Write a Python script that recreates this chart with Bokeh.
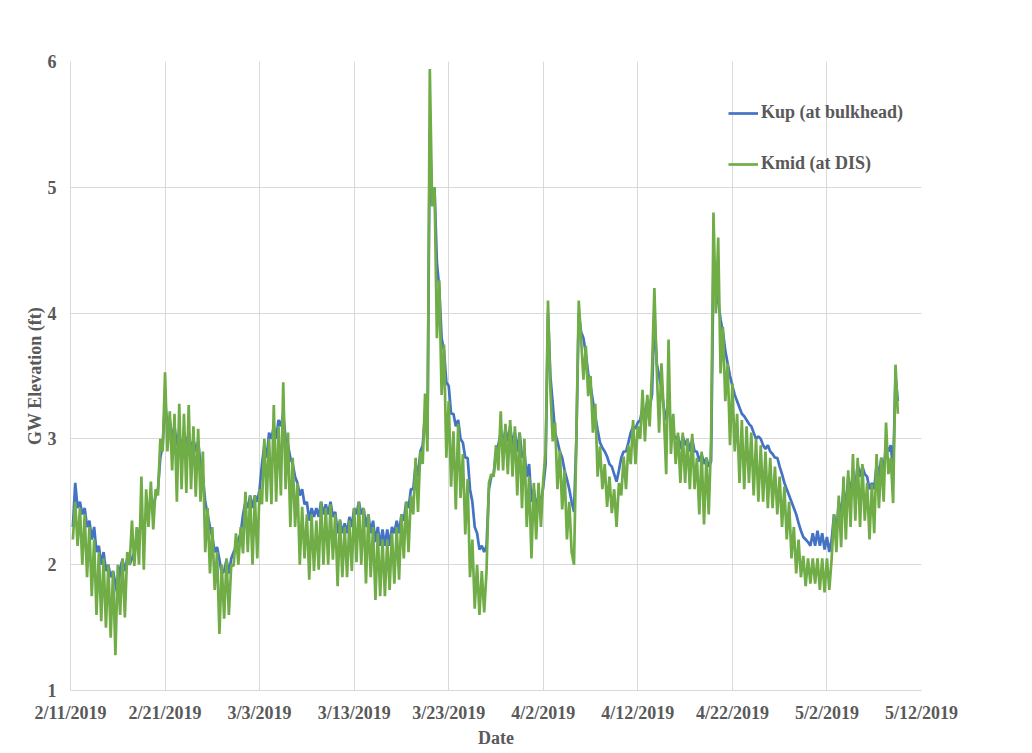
import pandas as pd
from bokeh.plotting import figure
from bokeh.models import Range1d, FixedTicker
from bokeh.embed import file_html
from bokeh.resources import INLINE

# ---- data (6-hourly samples starting 2019-02-11 06:00) ----
start_time = "2019-02-11 06:00"
step = "6h"

kmid_at_dis = [
    2.2, 2.5, 2.15, 2.45,  2.0, 2.4, 1.9, 2.3,
    1.75, 2.2, 1.6, 2.1,  1.55, 2.05, 1.5, 2.0,
    1.42, 1.95, 1.28, 2.0,  1.6, 2.05, 1.58, 2.1,
    2.0, 2.35, 1.99, 2.3,  2.0, 2.7, 1.96, 2.6,
    2.3, 2.66, 2.28, 2.6,  2.55, 3.0, 2.9, 3.53,
    2.9, 3.22, 2.75, 3.2,  2.5, 3.28, 2.6, 3.2,
    2.57, 3.27, 2.6, 3.1,  2.54, 3.08, 2.5, 2.9,
    2.1, 2.45, 1.93, 2.3,  1.8, 2.1, 1.45, 2.0,
    1.57, 2.05, 1.6, 2.0,  1.99, 2.25, 2.0, 2.3,
    2.09, 2.58, 2.1, 2.55,  2.0, 2.55, 2.05, 2.6,
    2.48, 3.0, 2.5, 3.0,  2.48, 3.27, 2.5, 3.1,
    2.55, 3.45, 2.6, 3.05,  2.3, 2.85, 2.3, 2.65,
    2.0, 2.46, 2.05, 2.4,  1.88, 2.4, 1.95, 2.35,
    1.96, 2.5, 2.0, 2.45,  2.0, 2.48, 2.04, 2.4,
    1.83, 2.36, 1.9, 2.3,  1.9, 2.35, 1.95, 2.45,
    2.02, 2.5, 2.0, 2.45,  1.85, 2.4, 1.9, 2.3,
    1.72, 2.25, 1.75, 2.2,  1.75, 2.2, 1.8, 2.25,
    1.85, 2.3, 1.88, 2.4,  2.05, 2.5, 2.1, 2.55,
    2.4, 2.85, 2.42, 2.9,  2.8, 3.36, 2.9, 5.94,
    4.85, 5.0, 3.8, 4.26,  3.35, 3.75, 2.85, 3.3,
    2.62, 3.06, 2.44, 3.12,  2.53, 2.88, 2.24, 2.68,
    1.9, 2.2, 1.65, 2.0,  1.6, 1.95, 1.62, 1.95,
    2.65, 2.72, 2.7, 2.95,  2.75, 3.22, 2.75, 3.12,
    2.72, 3.15, 2.7, 3.1,  2.55, 3.05, 2.45, 3.0,
    2.3, 2.7, 2.05, 2.65,  2.2, 2.65, 2.3, 2.68,
    2.9, 4.1, 3.4, 2.98,  3.13, 2.6, 2.91, 2.44,
    2.75, 2.2, 2.5, 2.1,  2.0, 3.0, 4.1, 3.79,
    3.47, 3.74, 3.34, 3.5,  3.05, 3.28, 2.7, 2.94,
    2.6, 2.8, 2.46, 2.7,  2.41, 2.6, 2.3, 2.65,
    2.55, 2.86, 2.6, 2.95,  2.8, 3.15, 2.8, 3.1,
    3.0, 3.39, 2.98, 3.35,  3.1, 3.55, 4.2, 3.55,
    3.05, 3.6, 3.2, 2.72,  3.79, 2.88, 3.2, 2.8,
    3.05, 2.65, 3.05, 2.65,  3.0, 2.6, 3.04, 2.6,
    2.85, 2.4, 2.9, 2.32,  2.85, 2.4, 3.0, 4.8,
    4.0, 4.6, 3.52, 3.89,  3.3, 3.6, 2.95, 3.44,
    2.9, 3.2, 2.65, 3.15,  2.6, 3.1, 2.65, 3.05,
    2.55, 3.0, 2.5, 2.95,  2.5, 2.9, 2.45, 2.85,
    2.45, 2.78, 2.4, 2.7,  2.3, 2.62, 2.2, 2.5,
    2.05, 2.3, 1.93, 2.2,  1.9, 2.07, 1.83, 2.05,
    1.85, 2.05, 1.85, 2.05,  1.8, 2.05, 1.78, 2.05,
    1.8, 2.05, 2.4, 2.1,  2.55, 2.14, 2.7, 2.2,
    2.75, 2.3, 2.88, 2.35,  2.85, 2.3, 2.8, 2.35,
    2.65, 2.2, 2.64, 2.25,  2.88, 2.45, 2.85, 2.5,
    3.13, 2.72, 2.85, 2.49,  3.59, 3.2,
]

kup_at_bulkhead = [
    2.3, 2.65, 2.45, 2.5,  2.4, 2.45, 2.3, 2.35,
    2.2, 2.3, 2.1, 2.15,  2.0, 2.1, 1.95, 2.0,
    1.9, 1.95, 1.85, 1.75,  1.97, 2.04, 1.95, 2.05,
    2.0, 2.05, 2.1, 2.2,  2.25, 2.35, 2.3, 2.4,
    2.45, 2.5, 2.45, 2.55,  2.6, 2.85, 2.95, 3.3,
    3.1, 3.15, 3.0, 3.1,  2.95, 3.05, 2.9, 3.05,
    2.95, 3.05, 2.9, 3.0,  2.9, 2.98, 2.8, 2.7,
    2.5, 2.4, 2.3, 2.22,  2.1, 2.14, 2.04, 1.93,
    1.95, 2.04, 1.93, 2.05,  2.1, 2.14, 2.2, 2.25,
    2.4, 2.5, 2.45, 2.55,  2.45, 2.55, 2.5, 2.6,
    2.8, 2.95, 2.85, 3.05,  3.0, 3.1, 3.0, 3.15,
    3.1, 3.2, 3.0, 2.95,  2.85, 2.8, 2.7, 2.65,
    2.55, 2.6, 2.48, 2.5,  2.35, 2.45, 2.38, 2.45,
    2.38, 2.5, 2.4, 2.48,  2.4, 2.5, 2.38, 2.42,
    2.25, 2.35, 2.25, 2.33,  2.25, 2.38, 2.3, 2.45,
    2.4, 2.5, 2.4, 2.45,  2.3, 2.4, 2.25, 2.35,
    2.18, 2.3, 2.15, 2.28,  2.15, 2.28, 2.15, 2.3,
    2.25, 2.35, 2.25, 2.4,  2.35, 2.5, 2.45, 2.6,
    2.6, 2.8, 2.7, 2.9,  2.95, 3.2, 3.0, 5.45,
    4.85, 5.0, 4.4, 4.2,  3.8, 3.7, 3.45, 3.42,
    3.2, 3.2, 3.1, 3.15,  3.0, 2.97, 2.85, 2.85,
    2.6, 2.5, 2.3, 2.25,  2.12, 2.15, 2.1, 2.15,
    2.6, 2.7, 2.72, 2.88,  2.95, 3.05, 2.95, 3.08,
    2.98, 3.1, 2.95, 3.05,  2.9, 3.05, 2.85, 2.9,
    2.7, 2.8, 2.5, 2.6,  2.45, 2.55, 2.5, 2.62,
    2.8, 4.0, 3.5, 3.28,  3.05, 2.98, 2.9, 2.85,
    2.75, 2.68, 2.6, 2.5,  2.42, 3.0, 4.0, 3.85,
    3.8, 3.68, 3.52, 3.42,  3.3, 3.18, 3.07, 2.97,
    2.93, 2.9, 2.86, 2.8,  2.78, 2.72, 2.66, 2.75,
    2.85, 2.9, 2.9, 2.97,  3.05, 3.1, 3.08, 3.13,
    3.15, 3.25, 3.2, 3.3,  3.25, 3.35, 4.0, 3.6,
    3.5, 3.4, 3.25, 3.15,  3.3, 3.1, 3.05, 3.0,
    3.02, 2.92, 3.02, 2.95,  3.0, 2.9, 3.0, 2.9,
    2.9, 2.82, 2.88, 2.8,  2.85, 2.78, 2.82, 4.4,
    4.25, 4.1, 3.95, 3.85,  3.7, 3.6, 3.5, 3.42,
    3.35, 3.3, 3.25, 3.2,  3.18, 3.15, 3.12, 3.1,
    3.05, 3.0, 3.02, 3.0,  2.95, 2.92, 2.95, 2.9,
    2.88, 2.85, 2.85, 2.78,  2.72, 2.65, 2.6, 2.55,
    2.5, 2.45, 2.4, 2.33,  2.27, 2.22, 2.2, 2.18,
    2.15, 2.25, 2.15, 2.27,  2.15, 2.25, 2.12, 2.22,
    2.1, 2.2, 2.4, 2.25,  2.5, 2.4, 2.6, 2.45,
    2.7, 2.55, 2.75, 2.6,  2.8, 2.7, 2.78, 2.72,
    2.7, 2.6, 2.65, 2.6,  2.8, 2.7, 2.85, 2.75,
    2.95, 2.9, 2.95, 2.75,  3.5, 3.3,
]

tick_labels = ["2/11/2019", "2/21/2019", "3/3/2019", "3/13/2019", "3/23/2019",
               "4/2/2019", "4/12/2019", "4/22/2019", "5/2/2019", "5/12/2019"]
y_ticks = [1, 2, 3, 4, 5, 6]

series_names = ["Kup (at bulkhead)", "Kmid (at DIS)"]
series_colors = ["#4472C4", "#70AD47"]

# ---- x positions in days since the first tick date ----
origin = pd.Timestamp("2019-02-11")
times = pd.date_range(start_time, periods=len(kmid_at_dis), freq=step)
x_days = list((times - origin) / pd.Timedelta(days=1))
tick_dates = pd.to_datetime(tick_labels, format="%m/%d/%Y")
tick_pos = [int((d - origin).days) for d in tick_dates]

FONT = "Liberation Serif"
TXT = "#595959"
GRID = "#d9d9d9"

p = figure(width=1032, height=753, output_backend="svg", toolbar_location=None,
           x_range=Range1d(tick_pos[0], tick_pos[-1]), y_range=Range1d(1, 6),
           min_border_left=70, min_border_right=111, min_border_top=61,
           min_border_bottom=63)
p.outline_line_color = None
p.background_fill_color = "white"
p.border_fill_color = "white"

p.line(x_days, kup_at_bulkhead, color=series_colors[0], line_width=2.7,
       legend_label=series_names[0])
p.line(x_days, kmid_at_dis, color=series_colors[1], line_width=2.7,
       legend_label=series_names[1])

# axes
p.xaxis.ticker = FixedTicker(ticks=tick_pos)
p.xaxis.major_label_overrides = {tp: lab for tp, lab in zip(tick_pos, tick_labels)}
p.yaxis.ticker = FixedTicker(ticks=y_ticks)
p.xgrid.ticker = FixedTicker(ticks=tick_pos)
p.ygrid.ticker = FixedTicker(ticks=y_ticks)
for g in (p.xgrid, p.ygrid):
    g.grid_line_color = GRID
    g.grid_line_width = 1

for ax in (p.xaxis, p.yaxis):
    ax.axis_line_color = GRID
    ax.major_tick_line_color = None
    ax.minor_tick_line_color = None
    ax.major_tick_out = 0
    ax.major_tick_in = 0
    ax.major_label_text_font = FONT
    ax.major_label_text_font_style = "bold"
    ax.major_label_text_font_size = "18px"
    ax.major_label_text_color = TXT
    ax.axis_label_text_font = FONT
    ax.axis_label_text_font_style = "bold"
    ax.axis_label_text_font_size = "18px"
    ax.axis_label_text_color = TXT

p.xaxis.axis_label = "Date"
p.yaxis.axis_label = "GW Elevation (ft)"
p.yaxis.major_label_standoff = 14
p.yaxis.axis_label_standoff = 0
p.xaxis.major_label_standoff = 12
p.xaxis.axis_label_standoff = 2

# legend
lg = p.legend[0]
lg.location = (658, 516)
lg.background_fill_alpha = 0
lg.border_line_alpha = 0
lg.padding = 0
lg.margin = 0
lg.spacing = 30
lg.glyph_width = 30
lg.glyph_height = 20
lg.label_height = 20
lg.label_standoff = 3
lg.label_text_font = FONT
lg.label_text_font_style = "bold"
lg.label_text_font_size = "18px"
lg.label_text_color = TXT

open("out.html", "w").write(file_html(p, INLINE))
